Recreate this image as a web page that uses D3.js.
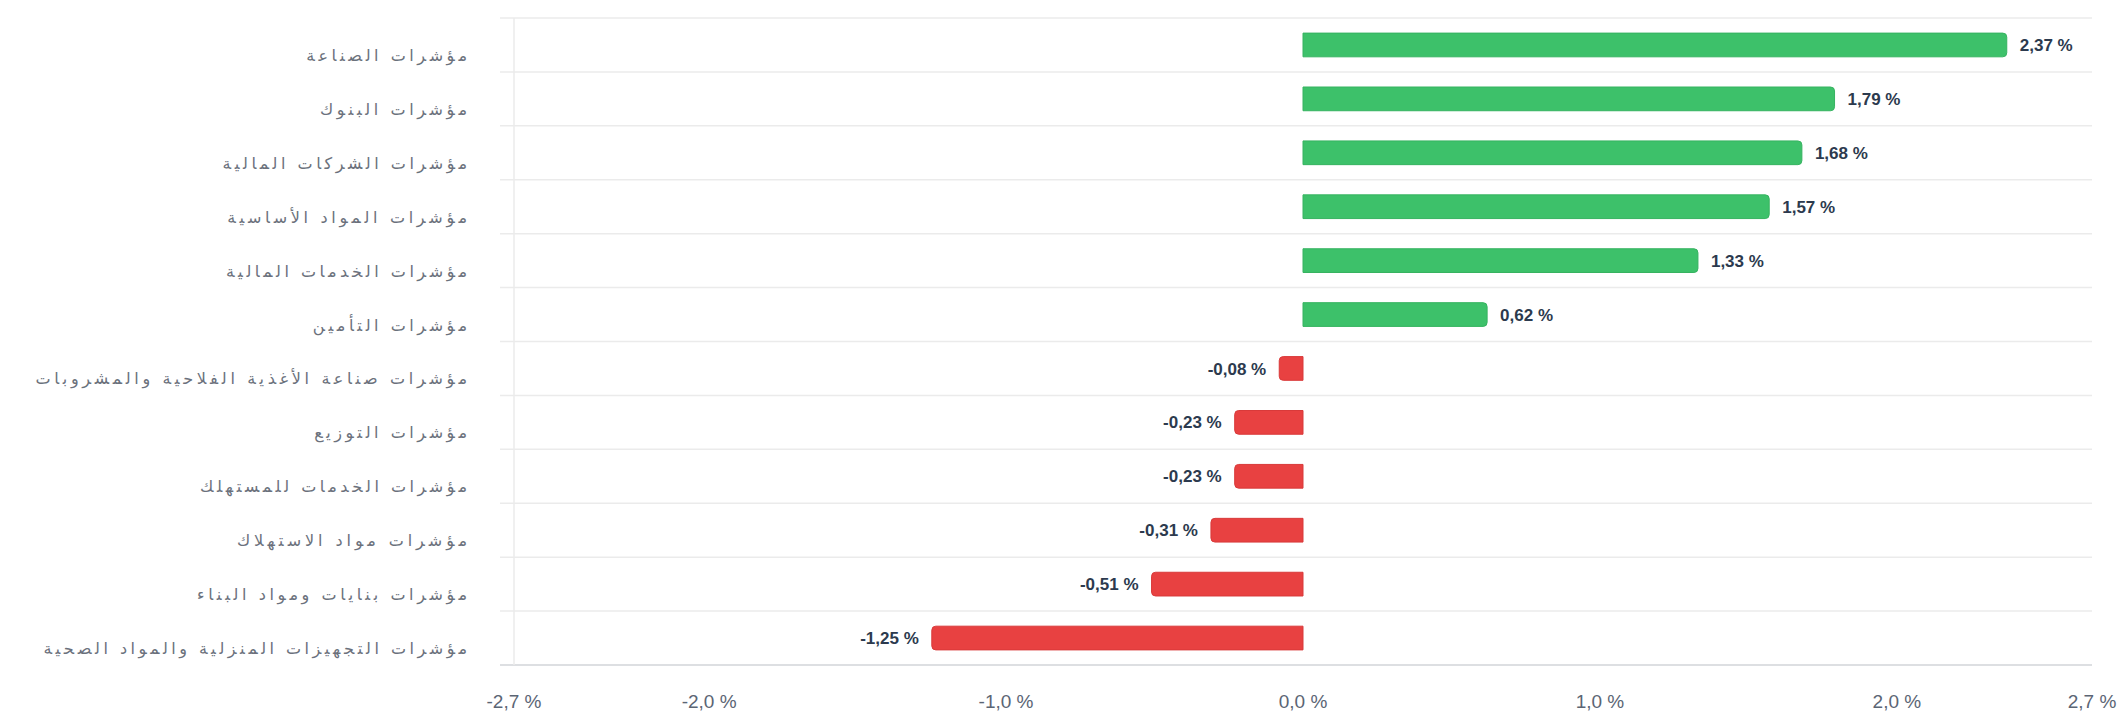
<!DOCTYPE html>
<html>
<head>
<meta charset="utf-8">
<script src="https://cdn.jsdelivr.net/npm/d3@7"></script>
<style>
  html, body { margin: 0; padding: 0; background: #fff; }
  svg { display: block; }
</style>
</head>
<body>
<svg id="chart" width="2123" height="711"></svg>
<script>
const categories = [
  "مؤشرات الصناعة",
  "مؤشرات البنوك",
  "مؤشرات الشركات المالية",
  "مؤشرات المواد الأساسية",
  "مؤشرات الخدمات المالية",
  "مؤشرات التأمين",
  "مؤشرات صناعة الأغذية الفلاحية والمشروبات",
  "مؤشرات التوزيع",
  "مؤشرات الخدمات للمستهلك",
  "مؤشرات مواد الاستهلاك",
  "مؤشرات بنايات ومواد البناء",
  "مؤشرات التجهيزات المنزلية والمواد الصحية"
];
const values = [2.37, 1.79, 1.68, 1.57, 1.33, 0.62, -0.08, -0.23, -0.23, -0.31, -0.51, -1.25];
const xDomain = [-2.657, 2.657];
const xTickValues = [-2.657, -2, -1, 0, 1, 2, 2.657];
const xTickLabels = ["-2,7 %", "-2,0 %", "-1,0 %", "0,0 %", "1,0 %", "2,0 %", "2,7 %"];

const W = 2123, H = 711;
const plot = { left: 514, right: 2092, top: 18, bottom: 665 };
const svg = d3.select("#chart");

const x = d3.scaleLinear().domain(xDomain).range([plot.left, plot.right]);
const y = d3.scaleBand().domain(categories).range([plot.top, plot.bottom])
  .paddingInner(0.56).paddingOuter(0.28);

const fmt = v => (v < 0 ? "-" : "") + d3.format(".2f")(Math.abs(v)).replace(".", ",") + " %";

// horizontal gridlines at band boundaries
const step = y.step();
const gridY = d3.range(categories.length + 1).map(i => plot.top + i * step);
svg.append("g").selectAll("line").data(gridY).join("line")
  .attr("x1", plot.left - 14).attr("x2", plot.right)
  .attr("y1", d => d).attr("y2", d => d)
  .attr("stroke", (d, i) => i === categories.length ? "#d2d4d8" : "#ebebeb")
  .attr("stroke-width", 1.5);

// left vertical axis line
svg.append("line")
  .attr("x1", plot.left).attr("x2", plot.left)
  .attr("y1", plot.top).attr("y2", plot.bottom)
  .attr("stroke", "#ebebeb").attr("stroke-width", 1.5);

// bars
const r = 4;
function barPath(v, cat) {
  const x0 = x(0), x1 = x(v), y0 = y(cat), h = y.bandwidth();
  const s = v >= 0 ? 1 : -1;
  const rr = Math.min(r, Math.abs(x1 - x0));
  return `M${x0},${y0} H${x1 - s * rr} Q${x1},${y0} ${x1},${y0 + rr} V${y0 + h - rr} Q${x1},${y0 + h} ${x1 - s * rr},${y0 + h} H${x0} Z`;
}
svg.append("g").selectAll("path").data(values).join("path")
  .attr("d", (v, i) => barPath(v, categories[i]))
  .attr("fill", v => v >= 0 ? "#3dc16a" : "#e84141")
  .attr("stroke", v => v >= 0 ? "#36b360" : "#d93a3a")
  .attr("stroke-width", 1);

// value labels
svg.append("g").selectAll("text").data(values).join("text")
  .attr("x", v => v >= 0 ? x(v) + 13 : x(v) - 13)
  .attr("y", (v, i) => y(categories[i]) + y.bandwidth() / 2)
  .attr("dy", "0.36em")
  .attr("text-anchor", v => v >= 0 ? "start" : "end")
  .attr("font-family", "'Liberation Sans', Arial, sans-serif")
  .attr("font-weight", "bold")
  .attr("font-size", 17)
  .attr("fill", "#2c3a4e")
  .text(v => fmt(v));

// category labels (spaced out like the reference: extra spacing per character and per word gap)
const catLabels = svg.append("g").selectAll("text").data(categories).join("text")
  .attr("x", 467)
  .attr("y", d => y(d) + y.bandwidth() / 2 + 16)
  .attr("text-anchor", "end")
  .attr("font-family", "'DejaVu Sans', sans-serif")
  .attr("font-size", 16)
  .attr("fill", "#6b717c")
  .text(d => d);
catLabels.each(function(d) {
  const len = this.getComputedTextLength();
  const spaces = (d.match(/ /g) || []).length;
  d3.select(this).attr("textLength", len + d.length * 3.0 + spaces * 4).attr("lengthAdjust", "spacing");
});

// x axis tick labels
svg.append("g").selectAll("text").data(xTickValues).join("text")
  .attr("x", d => x(d))
  .attr("y", 708)
  .attr("text-anchor", "middle")
  .attr("font-family", "'Liberation Sans', Arial, sans-serif")
  .attr("font-size", 19)
  .attr("fill", "#5b6574")
  .text((d, i) => xTickLabels[i]);
</script>
</body>
</html>
